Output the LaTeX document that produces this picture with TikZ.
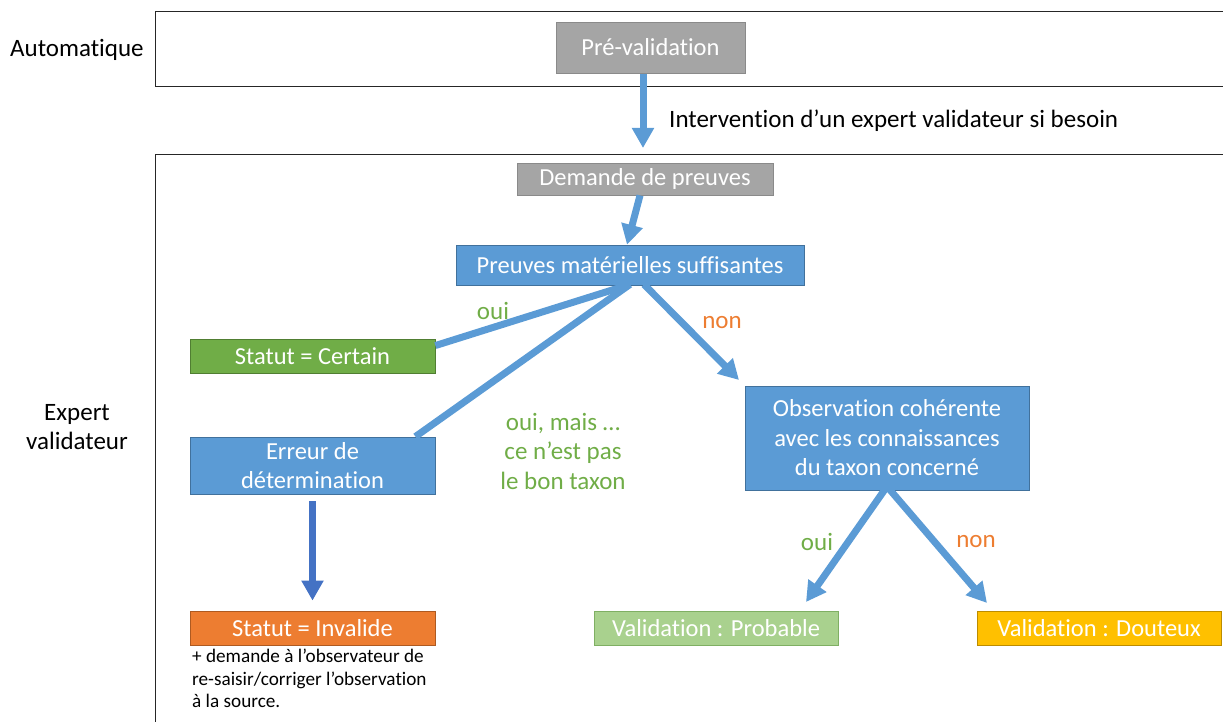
\documentclass[tikz,border=0pt]{standalone}
\usepackage{fontspec}
\setmainfont[Ligatures={NoCommon}]{Carlito}
\usetikzlibrary{arrows.meta,calc}
\definecolor{cblue}{HTML}{5B9BD5}
\definecolor{cblued}{HTML}{41719C}
\definecolor{cdarkblue}{HTML}{4472C4}
\definecolor{cgray}{HTML}{A5A5A5}
\definecolor{cgrayd}{HTML}{8A8A8A}
\definecolor{cgreen}{HTML}{70AD47}
\definecolor{cgreend}{HTML}{507E32}
\definecolor{corange}{HTML}{ED7D31}
\definecolor{coranged}{HTML}{AE5A21}
\definecolor{clgreen}{HTML}{A9D18E}
\definecolor{clgreend}{HTML}{7FAF63}
\definecolor{cyellow}{HTML}{FFC000}
\definecolor{cyellowd}{HTML}{BC8C00}
\begin{document}
\begin{tikzpicture}[x=1pt,y=-1pt,
  flow/.style={rectangle, inner sep=0pt, text=white, align=center, line width=0.8pt,
    font=\fontsize{24.5}{29.5}\selectfont},
  graybox/.style={flow, fill=cgray, draw=cgrayd},
  bluebox/.style={flow, fill=cblue, draw=cblued},
  greenbox/.style={flow, fill=cgreen, draw=cgreend},
  orangebox/.style={flow, fill=corange, draw=coranged},
  lgreenbox/.style={flow, fill=clgreen, draw=clgreend},
  yellowbox/.style={flow, fill=cyellow, draw=cyellowd},
  frame/.style={draw=black!85, line width=1pt},
  lbl/.style={inner sep=0pt, font=\fontsize{25}{29.5}\selectfont, align=center},
  smalltxt/.style={inner sep=0pt, font=\fontsize{19.2}{22.8}\selectfont, align=left},
  conn/.style={line width=7pt, draw=cblue},
  arr/.style={conn, -{Triangle[length=20pt,width=21pt]}},
]
\useasboundingbox (0,0) rectangle (1223,722);
\clip (0,0) rectangle (1223,722);

% frames
\draw[frame] (155,12) rectangle (1230,87);
\draw[frame] (155,155) rectangle (1230,730);

% side labels
\node[lbl, anchor=west] (auto) at (10,50) {Automatique};
\node[lbl] (expert) at (77,427) {Expert\\validateur};

% nodes
\node[graybox, minimum width=189, minimum height=51] (pre) at (650.5,47.5) {Pré-validation};
\node[graybox, minimum width=256, minimum height=32] (dem) at (645,179) {Demande de preuves};
\node[bluebox, minimum width=348, minimum height=40] (preuves) at (630,265) {Preuves matérielles suffisantes};
\node[greenbox, minimum width=245, minimum height=34] (certain) at (312.5,356) {Statut = Certain};
\node[bluebox, minimum width=245, minimum height=57] (erreur) at (312.5,465.5) {Erreur de\\détermination};
\node[orangebox, minimum width=245, minimum height=34] (invalide) at (312.5,628) {Statut = Invalide};
\node[bluebox, minimum width=284, minimum height=104] (obs) at (887,438) {Observation cohérente\\avec les connaissances\\du taxon concerné};
\node[lgreenbox, minimum width=244, minimum height=34] (probable) at (716,628) {Validation : Probable};
\node[yellowbox, minimum width=244, minimum height=34] (douteux) at (1099,628) {Validation : Douteux};

\node[smalltxt, anchor=north west] (note) at (192,648.5) {+ demande à l’observateur de\\re-saisir/corriger l’observation\\à la source.};

% connectors
\coordinate (pretip) at (643,148);
\draw[arr] ([xshift=-7.5]pre.south) ++(0,1) -- (pretip);
\node[lbl, anchor=west] (interv) at (669,121) {Intervention d’un expert validateur si besoin};

\draw[arr] ([xshift=-5]dem.south) -- ([xshift=-3]preuves.north);

\coordinate (psrc) at ([yshift=1]preuves.south);
\draw[conn] (psrc) -- ($(certain.north east)!0.2!(certain.south east)$);
\draw[conn] (psrc) -- ([xshift=-20]erreur.north east);
\coordinate (obstip) at (739,380);
\draw[arr] ([xshift=14]psrc) -- (obstip);

\draw[arr, draw=cdarkblue] ([yshift=-7]erreur.south) -- ([yshift=10]invalide.north);

\coordinate (osrc) at ([yshift=4]obs.south);
\draw[arr] (osrc) -- (806,602);
\draw[arr] (osrc) -- (987,603);

% branch labels
\node[lbl, text=cgreen] (oui1) at (493,311) {oui};
\node[lbl, text=corange] (non1) at (722,323) {non};
\node[lbl, text=cgreen] (ouimais) at (563,451) {oui, mais …\\ce n’est pas\\le bon taxon};
\node[lbl, text=cgreen] (oui2) at (817,542) {oui};
\node[lbl, text=corange] (non2) at (976,542) {non};
\end{tikzpicture}
\end{document}
